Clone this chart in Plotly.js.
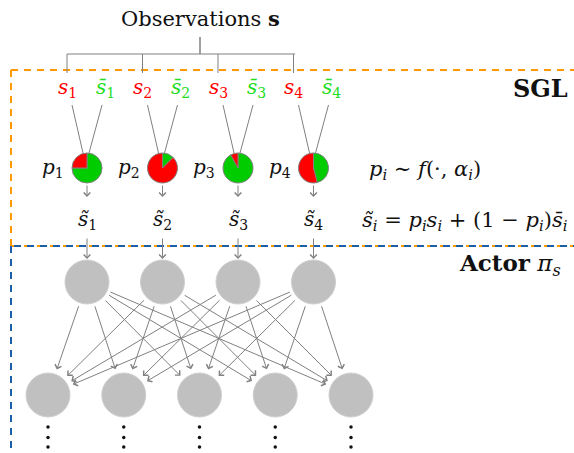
<!DOCTYPE html>
<html><head><meta charset="utf-8">
<script src="https://cdn.plot.ly/plotly-3.0.1.min.js"></script>
<style>html,body{margin:0;padding:0;background:#fff}</style>
</head><body><div id="chart" style="width:574px;height:453px"></div>
<script>
// ---- data ----
const inputIndex = ['1','2','3','4'];
const redShare = [0.25, 0.875, 0.08, 0.54];   // share of s_i in each gate p_i
const hiddenCount = 5;
const titleText = 'Observations <b>s</b>';
const sglLabel = '<b>SGL</b>';
const actorLabel = '<b>Actor</b> <i>π<sub>s</sub></i>';
const gateFormula = '<i>p<sub>i</sub></i> ∼ <i>f</i>(·, <i>α<sub>i</sub></i>)';
const mixFormula = '<i>s\u0303<sub>i</sub></i> = <i>p<sub>i</sub>s<sub>i</sub></i> + (1 − <i>p<sub>i</sub></i>)<i>s\u0304<sub>i</sub></i>';

// ---- layout helpers ----
const W = 574, H = 453;
const FONT = 'DejaVu Serif';
const RED = '#ff0000', GREEN = '#00cc00', TXTGREEN = '#22dd22', GRAY = '#808080';
const step = 75.5;
const colX = i => 87 + step * i;          // gate / top node columns
const botX = j => 48 + 75.75 * j;         // second layer nodes
const pieY = 168, pieR = 15, topY = 282, botY = 395, nodeR = 22;

const shapes = [];
const annotations = [];
const line = (x0,y0,x1,y1,color,width,dash) => shapes.push({type:'line',xref:'x',yref:'y',x0,y0,x1,y1,line:{color,width,dash:dash||'solid'}});
const text = (x,y,t,size,color,extra) => annotations.push(Object.assign({x,y,xref:'x',yref:'y',text:t,showarrow:false,xanchor:'center',yanchor:'middle',font:{family:FONT,size,color:color||'#111'}},extra||{}));
const arrow = (sx,sy,tx,ty,st,sst) => annotations.push({x:tx,y:ty,ax:sx,ay:sy,xref:'x',yref:'y',axref:'x',ayref:'y',text:'',showarrow:true,arrowhead:4,arrowsize:1.3,arrowwidth:1,arrowcolor:GRAY,standoff:st||0,startstandoff:sst||0});

// dashed frames
line(11,70,574,70,'#ff9900',2,'7px,6px');
line(11,70,11,246,'#ff9900',2,'7px,6px');
line(11,246,574,246,'#ff9900',2,'7px,6px');
line(14,246,574,246,'#1a5fa8',2,'7px,6px');
line(11,246,11,453,'#1a5fa8',2,'7px,6px');

// observation bracket
line(200,37,200,54,GRAY,1.5);
line(67,54,295,54,GRAY,1);
inputIndex.forEach((k,i)=>{ line(67+step*i,54,67+step*i,73,GRAY,1); });

text(200,18,titleText,21,'#111');
text(540,88,sglLabel,24,'#111');
text(510,264,actorLabel,23,'#111');
text(425,170,gateFormula,21,'#111');
text(464,221,mixFormula,21,'#111');

const data = [];
inputIndex.forEach((k,i)=>{
  const sx = 67 + step*i, bx = 105 + step*i, cx = colX(i);
  text(sx,88,'<i>s</i><sub>'+k+'</sub>',20,RED);
  text(bx,88,'<i>s\u0304</i><sub>'+k+'</sub>',20,TXTGREEN);
  line(sx+5,105,cx-4,153,GRAY,1);
  line(bx-3,105,cx+2,153,GRAY,1);
  text(cx-34,pieY,'<i>p</i><sub>'+k+'</sub>',20,'#111');
  data.push({type:'pie',values:[1-redShare[i],redShare[i]],sort:false,direction:'clockwise',rotation:0,
    marker:{colors:[GREEN,RED],line:{color:GRAY,width:1}},textinfo:'none',hoverinfo:'none',showlegend:false,
    domain:{x:[(cx-pieR)/W,(cx+pieR)/W],y:[1-(pieY+pieR)/H,1-(pieY-pieR)/H]}});
  arrow(cx,pieY+pieR+1,cx,197);
  text(cx,220,'<i>s\u0303</i><sub>'+k+'</sub>',20,'#111');
  arrow(cx,237,cx,259);
  shapes.push({type:'circle',xref:'x',yref:'y',x0:cx-nodeR,x1:cx+nodeR,y0:topY-nodeR,y1:topY+nodeR,fillcolor:'#c0c0c0',line:{color:'#cfcfcf',width:1}});
  for(let j=0;j<hiddenCount;j++) arrow(cx,topY,botX(j),botY,27,24);
});
const dotX=[], dotY=[];
for(let j=0;j<hiddenCount;j++){
  const bx = botX(j);
  shapes.push({type:'circle',xref:'x',yref:'y',x0:bx-nodeR,x1:bx+nodeR,y0:botY-nodeR,y1:botY+nodeR,fillcolor:'#c0c0c0',line:{color:'#cfcfcf',width:1}});
  [427,437.5,447].forEach(y=>{dotX.push(bx);dotY.push(y);});
}
data.push({type:'scatter',mode:'markers',x:dotX,y:dotY,marker:{color:'#111',size:3.5},hoverinfo:'skip',showlegend:false});

Plotly.newPlot('chart',data,{
  width:W,height:H,margin:{l:0,r:0,t:0,b:0},paper_bgcolor:'#fff',plot_bgcolor:'#fff',
  font:{family:FONT},
  xaxis:{range:[0,W],visible:false,fixedrange:true},
  yaxis:{range:[H,0],visible:false,fixedrange:true},
  shapes,annotations,showlegend:false
},{staticPlot:true});
</script></body></html>
